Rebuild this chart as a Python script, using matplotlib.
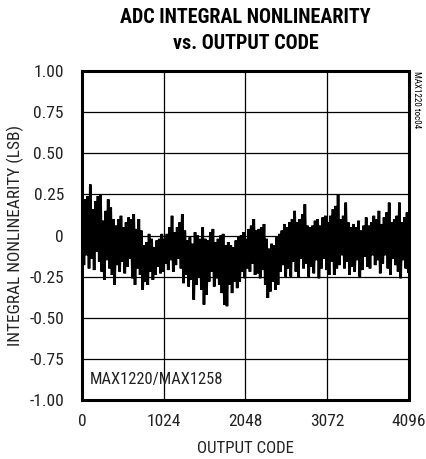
import numpy as np
import matplotlib
matplotlib.use("Agg")
import matplotlib.pyplot as plt

plt.rcParams["font.family"] = ["Roboto Condensed", "Liberation Sans Narrow", "Liberation Sans", "DejaVu Sans"]

# INL: local peaks and troughs every 32 codes
peak_code = np.arange(128) * 32 + 8
peak_inl = [
    0.15, 0.22, 0.24, 0.31, 0.16, 0.21, 0.24, 0.25, 0.09, 0.15,
    0.22, 0.17, 0.10, 0.06, 0.10, 0.12, 0.05, 0.08, 0.11, 0.10,
    0.13, 0.04, 0.10, 0.03, -0.06, -0.04, 0.01, -0.02, -0.07, -0.03,
    -0.02, 0.01, -0.02, 0.01, 0.05, 0.12, 0.02, 0.05, 0.08, 0.13,
    0.03, -0.03, -0.01, -0.05, 0.02, 0.00, -0.02, 0.05, -0.02, -0.03,
    0.02, 0.04, -0.04, -0.02, 0.00, 0.01, -0.06, -0.04, -0.06, -0.07,
    -0.03, -0.01, 0.00, 0.02, -0.02, 0.04, 0.06, 0.10, 0.03, 0.04,
    0.05, 0.07, -0.02, -0.08, -0.05, -0.06, -0.01, 0.01, 0.03, 0.07,
    0.05, 0.08, 0.10, 0.15, 0.08, 0.10, 0.13, 0.19, 0.06, 0.05,
    0.06, 0.09, 0.10, 0.06, 0.11, 0.12, 0.08, 0.12, 0.16, 0.18,
    0.25, 0.10, 0.12, 0.20, 0.08, 0.05, 0.07, 0.05, 0.09, 0.03,
    0.06, 0.11, 0.06, 0.08, 0.12, 0.10, 0.15, 0.07, 0.11, 0.14,
    0.20, 0.08, 0.10, 0.12, 0.20, 0.08, 0.11, 0.14,
]
trough_code = np.arange(128) * 32 + 24
trough_inl = [
    -0.18, -0.12, -0.20, -0.14, -0.21, -0.10, -0.16, -0.22, -0.27, -0.15,
    -0.20, -0.24, -0.30, -0.18, -0.22, -0.16, -0.23, -0.19, -0.14, -0.26,
    -0.30, -0.20, -0.24, -0.33, -0.28, -0.30, -0.22, -0.27, -0.24, -0.19,
    -0.23, -0.22, -0.17, -0.21, -0.15, -0.22, -0.18, -0.14, -0.20, -0.29,
    -0.24, -0.31, -0.27, -0.39, -0.30, -0.25, -0.33, -0.42, -0.36, -0.28,
    -0.22, -0.31, -0.26, -0.30, -0.35, -0.42, -0.43, -0.30, -0.35, -0.28,
    -0.32, -0.28, -0.22, -0.26, -0.20, -0.22, -0.17, -0.24, -0.23, -0.26,
    -0.21, -0.30, -0.38, -0.34, -0.28, -0.33, -0.30, -0.22, -0.18, -0.25,
    -0.20, -0.25, -0.16, -0.22, -0.25, -0.14, -0.20, -0.17, -0.25, -0.19,
    -0.23, -0.15, -0.26, -0.20, -0.14, -0.21, -0.24, -0.16, -0.24, -0.20,
    -0.18, -0.12, -0.20, -0.16, -0.24, -0.19, -0.22, -0.15, -0.25, -0.21,
    -0.13, -0.19, -0.20, -0.12, -0.18, -0.15, -0.23, -0.17, -0.12, -0.20,
    -0.24, -0.14, -0.18, -0.22, -0.26, -0.15, -0.20, -0.22,
]

x_ticks = [0, 1024, 2048, 3072, 4096]
y_ticks = [-1.0, -0.75, -0.5, -0.25, 0.0, 0.25, 0.5, 0.75, 1.0]
y_labels = ["-1.00", "-0.75", "-0.50", "-0.25", "0", "0.25", "0.50", "0.75", "1.00"]

# interleave peaks and troughs into one trace
code = np.column_stack([peak_code, trough_code]).ravel()
inl = np.column_stack([peak_inl, trough_inl]).ravel()

fig = plt.figure(figsize=(4.26, 4.59), dpi=100)
ax = fig.add_axes([0.1925, 0.1285, 0.7675, 0.7168])

ax.plot(code, inl, color="black", linewidth=1.9, solid_joinstyle="miter")

ax.set_xlim(0, 4096)
ax.set_ylim(-1.0, 1.0)
ax.set_xticks(x_ticks)
ax.set_yticks(y_ticks)
ax.set_yticklabels(y_labels)
ax.tick_params(length=0, labelsize=12.5, labelcolor="#222222")
ax.tick_params(axis="x", pad=10)
ax.tick_params(axis="y", pad=13)
ax.grid(True, color="black", linewidth=0.9)
ax.set_axisbelow(True)
for spine in ax.spines.values():
    spine.set_linewidth(2.2)

ax.set_xlabel("OUTPUT CODE", fontsize=12.2, labelpad=9, color="#222222")
ax.set_ylabel("INTEGRAL NONLINEARITY (LSB)", fontsize=12.4, labelpad=4,
              color="#222222")

ax.text(0.024, 0.061, "MAX1220/MAX1258", transform=ax.transAxes,
        fontsize=11.9, ha="left", va="center", color="#222222")
ax.text(1.022, 1.0, "MAX1220 toc04", transform=ax.transAxes,
        fontsize=6.5, rotation=270, ha="center", va="top")

fig.text(0.576, 0.962, "ADC INTEGRAL NONLINEARITY", fontsize=14.5,
         fontweight="heavy", ha="center", va="center")
fig.text(0.576, 0.905, "vs. OUTPUT CODE", fontsize=14.5,
         fontweight="heavy", ha="center", va="center")

fig.savefig("out.png", dpi=100)
